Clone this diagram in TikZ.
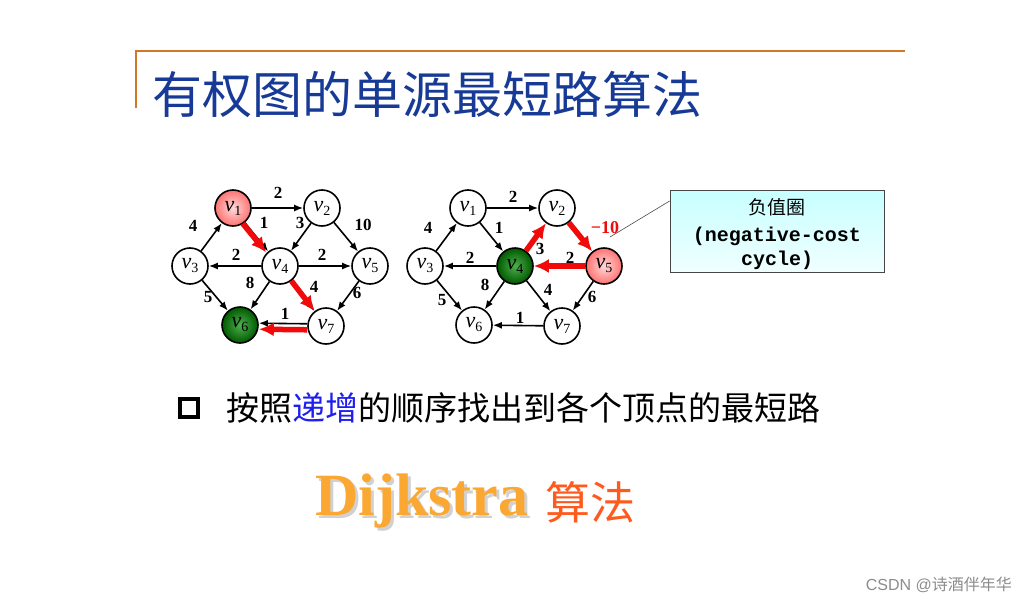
\documentclass[tikz,border=0pt]{standalone}
\usepackage{fontspec}
\setmainfont{Liberation Serif}
\setmonofont{Liberation Mono}
\setsansfont{Liberation Sans}
\newfontfamily\cjk{Noto Sans CJK SC}
\usetikzlibrary{arrows.meta}

\definecolor{titleblue}{RGB}{22,58,150}
\definecolor{frameorange}{RGB}{208,120,40}
\definecolor{pathred}{RGB}{240,10,10}
\definecolor{incblue}{RGB}{30,30,240}
\definecolor{dijorange}{RGB}{250,168,50}
\definecolor{algred}{RGB}{255,90,30}
\definecolor{boxline}{RGB}{70,70,70}

\newcommand{\vname}[1]{{\fontsize{22}{22}\selectfont\textit{v}}\raisebox{-4pt}{\fontsize{14}{14}\selectfont #1}}

\tikzset{
  vtx/.style={circle, draw, fill=white, line width=1.6pt, minimum size=36pt, inner sep=0pt},
  hotvtx/.style={vtx, inner color=red!15, outer color=red!55},
  donevtx/.style={vtx, inner color=green!55!black!70, outer color=green!35!black},
  edge/.style={-{Latex[length=9pt,width=7pt]}, line width=1.6pt},
  redge/.style={-{Latex[length=15pt,width=14pt]}, line width=5.5pt, pathred},
  wt/.style={font=\bfseries\fontsize{17}{17}\selectfont, inner sep=0pt},
}

\begin{document}
\begin{tikzpicture}[x=1pt, y=-1pt]
\useasboundingbox[fill=white] (0,0) rectangle (1028,605);

% frame and title
\draw[frameorange, line width=1.5pt] (136,108) -- (136,51) -- (905,51);
\node[anchor=base west, inner sep=0pt, text=titleblue, font=\cjk\fontsize{50}{50}\selectfont] (title) at (152,113) {有权图的单源最短路算法};

% left graph
\node[hotvtx] (l1) at (233,208) {\vname{1}};
\node[vtx] (l2) at (322,208) {\vname{2}};
\node[vtx] (l3) at (190,266) {\vname{3}};
\node[vtx] (l4) at (280,266) {\vname{4}};
\node[vtx] (l5) at (370,266) {\vname{5}};
\node[donevtx] (l6) at (240,325) {\vname{6}};
\node[vtx] (l7) at (326,326) {\vname{7}};
\draw[edge] (l1) -- (l2);
\draw[edge] (l3) -- (l1);
\draw[edge] (l1) -- (l4);
\draw[edge] (l2) -- (l4);
\draw[edge] (l2) -- (l5);
\draw[edge] (l4) -- (l3);
\draw[edge] (l4) -- (l5);
\draw[edge] (l3) -- (l6);
\draw[edge] (l4) -- (l6);
\draw[edge] (l4) -- (l7);
\draw[edge] (l5) -- (l7);
\draw[edge, transform canvas={shift={(0pt,2pt)}}] (l7) -- (l6);
\draw[redge, transform canvas={shift={(-2pt,-1pt)}}] (l1) -- (l4);
\draw[redge] (l4) -- (l7);
\draw[redge, transform canvas={shift={(0pt,-4pt)}}] (l7) -- (l6);
\node[wt] (lw12) at (278,193) {2};
\node[wt] (lw31) at (193,226) {4};
\node[wt] (lw14) at (264,223) {1};
\node[wt] (lw24) at (300,223) {3};
\node[wt] (lw25) at (363,225) {10};
\node[wt] (lw43) at (236,255) {2};
\node[wt] (lw45) at (322,255) {2};
\node[wt] (lw46) at (250,283) {8};
\node[wt] (lw36) at (208,297) {5};
\node[wt] (lw47) at (314,287) {4};
\node[wt] (lw57) at (357,293) {6};
\node[wt] (lw76) at (285,314) {1};

% right graph
\node[vtx] (r1) at (468,208) {\vname{1}};
\node[vtx] (r2) at (557,208) {\vname{2}};
\node[vtx] (r3) at (425,266) {\vname{3}};
\node[donevtx] (r4) at (515,266) {\vname{4}};
\node[hotvtx] (r5) at (604,266) {\vname{5}};
\node[vtx] (r6) at (474,325) {\vname{6}};
\node[vtx] (r7) at (562,326) {\vname{7}};
\draw[edge] (r1) -- (r2);
\draw[edge] (r3) -- (r1);
\draw[edge] (r1) -- (r4);
\draw[edge] (r4) -- (r3);
\draw[edge] (r3) -- (r6);
\draw[edge] (r4) -- (r6);
\draw[edge] (r4) -- (r7);
\draw[edge] (r5) -- (r7);
\draw[edge] (r7) -- (r6);
\draw[redge] (r4) -- (r2);
\draw[redge] (r2) -- (r5);
\draw[redge] (r5) -- (r4);
\node[wt] (rw12) at (513,197) {2};
\node[wt] (rw31) at (428,228) {4};
\node[wt] (rw14) at (499,228) {1};
\node[wt] (rw42) at (540,249) {3};
\node[wt, text=pathred, font=\bfseries\fontsize{18}{18}\selectfont] (rw25) at (605,228) {\textminus10};
\node[wt] (rw43) at (470,258) {2};
\node[wt] (rw54) at (570,258) {2};
\node[wt] (rw46) at (485,285) {8};
\node[wt] (rw36) at (442,300) {5};
\node[wt] (rw47) at (548,290) {4};
\node[wt] (rw57) at (592,297) {6};
\node[wt] (rw76) at (520,318) {1};

% callout
\node[draw=boxline, line width=0.8pt, top color=cyan!22, bottom color=cyan!6, minimum width=214pt, minimum height=82pt, inner sep=0pt, align=center] (note) at (777,231) {};
\node[font=\cjk\fontsize{19}{19}\selectfont, inner sep=0pt] (notecn) at (777,207) {负值圈};
\node[font=\ttfamily\bfseries\fontsize{20}{20}\selectfont, inner sep=0pt] (noteen1) at (777,236) {(negative-cost};
\node[font=\ttfamily\bfseries\fontsize{20}{20}\selectfont, inner sep=0pt] (noteen2) at (777,260) {cycle)};
\coordinate (tip) at (610,237);
\draw[line width=0.6pt, black!70] (note.west |- 0,201) -- (tip);

% bullet line
\node[draw, line width=3.5pt, minimum size=18pt, inner sep=0pt] (bullet) at (189,408) {};
\node[anchor=base west, inner sep=0pt, font=\cjk\fontsize{33}{33}\selectfont] (point) at (226,420) {按照\textcolor{incblue}{递增}的顺序找出到各个顶点的最短路};

% algorithm name
\node[anchor=base west, inner sep=0pt, font=\bfseries\fontsize{60}{60}\selectfont, text=black!18] (dijshadow) at (318,518) {Dijkstra};
\node[anchor=base west, inner sep=0pt, font=\bfseries\fontsize{60}{60}\selectfont, text=dijorange] (dij) at (315,515) {Dijkstra};
\node[anchor=base west, inner sep=0pt, font=\cjk\fontsize{45}{45}\selectfont, text=algred] (alg) at (545,519) {算法};

% watermark
\node[anchor=base east, inner sep=0pt, text=black!45, font=\sffamily\fontsize{16}{16}\selectfont] (mark) at (1012,590) {CSDN @{\cjk 诗酒伴年华}};
\end{tikzpicture}
\end{document}
